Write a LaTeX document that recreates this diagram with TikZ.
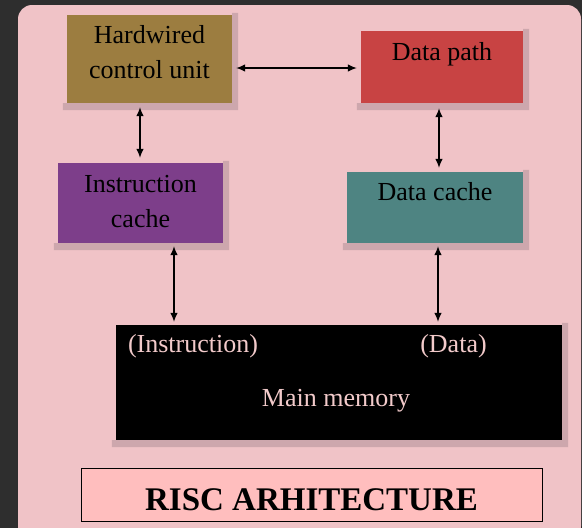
\documentclass[tikz,border=0pt]{standalone}
\usepackage{fontspec}
\setmainfont{Liberation Serif}
\usetikzlibrary{positioning,arrows.meta,backgrounds}

\definecolor{panelpink}{HTML}{F0C3C7}
\definecolor{framegray}{HTML}{2E2E2E}
\definecolor{hcuolive}{HTML}{9C7D40}
\definecolor{icpurple}{HTML}{7D3E8A}
\definecolor{dpred}{HTML}{C84343}
\definecolor{dcteal}{HTML}{4E8482}
\definecolor{titlepink}{HTML}{FFBEBE}
\definecolor{shadowpink}{HTML}{CDA7AD}
\definecolor{memtext}{HTML}{F2CACA}

\tikzset{
  unit/.style={rectangle, inner sep=0pt},
  lbl/.style={font=\fontsize{26}{35}\selectfont, align=center, inner sep=0pt},
  bus/.style={{Latex[length=9pt,width=7.5pt]}-{Latex[length=9pt,width=7.5pt]}, line width=1.1pt},
}

\begin{document}
\begin{tikzpicture}[x=1pt, y=-1pt]
 \useasboundingbox (0,0) rectangle (582,528);
 \node (hcu) [unit, fill=hcuolive, minimum width=165pt, minimum height=88pt,
   label={[lbl, anchor=north, yshift=-10pt]north:Hardwired\\control unit}] at (149.5,59) {};
 \node (icache) [unit, fill=icpurple, minimum width=165pt, minimum height=80pt,
   label={[lbl, anchor=north, yshift=-12pt]north:Instruction\\cache}] at (140.5,203) {};
 \node (dp) [unit, fill=dpred, minimum width=162pt, minimum height=72pt,
   label={[lbl, anchor=north, yshift=-11pt]north:Data path}] at (442,67) {};
 \node (dcache) [unit, fill=dcteal, minimum width=176pt, minimum height=71pt,
   label={[lbl, anchor=north, yshift=-10pt]north:Data cache}] at (435,207.5) {};
 \node (mem) [unit, fill=black, minimum width=446pt, minimum height=115pt,
   label={[lbl, text=memtext, anchor=base west, xshift=12pt, yshift=-28pt]north west:(Instruction)},
   label={[lbl, text=memtext, anchor=base, xshift=114.5pt, yshift=-28pt]north:(Data)},
   label={[lbl, text=memtext, anchor=base, xshift=-3pt, yshift=-82pt]north:Main memory}] at (339,382.5) {};
 \node (title) [unit, draw, line width=0.8pt, fill=titlepink, minimum width=461pt, minimum height=53pt,
   text height=31pt, text depth=0pt, font=\fontsize{33}{40}\selectfont\bfseries] at (311.5,494.5) {RISC ARHITECTURE};

 \draw[bus, shorten <=4pt, shorten >=4pt] ([yshift=-9pt]hcu.east) -- ([yshift=-9pt]hcu.east -| dp.west);
 \draw[bus, shorten <=4pt, shorten >=5pt] ([xshift=-9.5pt]hcu.south) -- ([xshift=-9.5pt]hcu.south |- icache.north);
 \draw[bus, shorten <=5pt, shorten >=4pt] ([xshift=-3pt]dp.south) -- ([xshift=-3pt]dp.south |- dcache.north);
 \draw[bus, shorten <=3pt, shorten >=3pt] ([xshift=33.5pt]icache.south) -- ([xshift=33.5pt]icache.south |- mem.north);
 \draw[bus, shorten <=3pt, shorten >=3pt] ([xshift=3pt]dcache.south) -- ([xshift=3pt]dcache.south |- mem.north);

 \begin{scope}[on background layer]
  \fill[framegray] (0,0) rectangle (582,528);
  \fill[panelpink, rounded corners=14pt] (18,5) rectangle (581,540);
  \foreach \n in {hcu,icache,dp,dcache,mem}
   \fill[shadowpink] ([xshift=-4pt]\n.south west) rectangle ([xshift=6pt,yshift=-7pt]\n.south east)
                     ([yshift=2pt]\n.north east) rectangle ([xshift=6pt]\n.south east);
 \end{scope}
\end{tikzpicture}
\end{document}
